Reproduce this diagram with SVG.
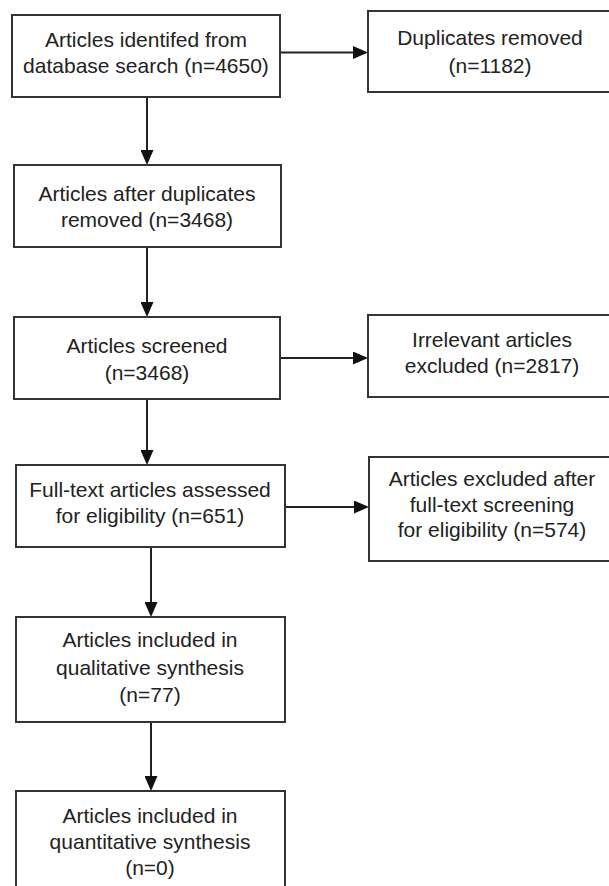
<svg xmlns="http://www.w3.org/2000/svg" width="609" height="886" viewBox="0 0 609 886">
<style>
.box{fill:#fff;stroke:#333;stroke-width:2}
.t{font-family:"Liberation Sans",Arial,sans-serif;font-size:21px;fill:#222;text-anchor:middle}
.c{stroke:#222;stroke-width:2;fill:none;marker-end:url(#ah)}
</style>
<defs>
<marker id="ah" viewBox="0 0 15 13" refX="7" refY="6.5" markerWidth="15" markerHeight="13" markerUnits="userSpaceOnUse" orient="auto">
<path d="M0,0 L15,6.5 L0,13 z" fill="#111"/>
</marker>
</defs>
<rect width="609" height="886" fill="#fff"/>
<g id="connectors">
<line class="c" x1="280" y1="52.5" x2="360" y2="52.5"/>
<line class="c" x1="147" y1="97" x2="147" y2="157"/>
<line class="c" x1="147" y1="247" x2="147" y2="309"/>
<line class="c" x1="147" y1="399" x2="147" y2="457"/>
<line class="c" x1="280" y1="358" x2="360" y2="358"/>
<line class="c" x1="285" y1="507" x2="361" y2="507"/>
<line class="c" x1="151" y1="547" x2="151" y2="609"/>
<line class="c" x1="151" y1="722" x2="151" y2="783"/>
</g>
<g id="n1"><rect class="box" x="12" y="15" width="268" height="82"/>
<text class="t" x="146" y="47">Articles identifed from</text>
<text class="t" x="146" y="73">database search (n=4650)</text></g>
<g id="n2"><rect class="box" x="368" y="11" width="244" height="81"/>
<text class="t" x="490" y="45">Duplicates removed</text>
<text class="t" x="490" y="73">(n=1182)</text></g>
<g id="n3"><rect class="box" x="14" y="165" width="267" height="82"/>
<text class="t" x="147" y="201">Articles after duplicates</text>
<text class="t" x="147" y="227">removed (n=3468)</text></g>
<g id="n4"><rect class="box" x="14" y="317" width="266" height="82"/>
<text class="t" x="147" y="353">Articles screened</text>
<text class="t" x="147" y="380">(n=3468)</text></g>
<g id="n5"><rect class="box" x="368" y="315" width="244" height="82"/>
<text class="t" x="492" y="347">Irrelevant articles</text>
<text class="t" x="492" y="373">excluded (n=2817)</text></g>
<g id="n6"><rect class="box" x="16" y="465" width="269" height="82"/>
<text class="t" x="150" y="497">Full-text articles assessed</text>
<text class="t" x="150" y="523">for eligibility (n=651)</text></g>
<g id="n7"><rect class="box" x="369" y="457" width="243" height="104"/>
<text class="t" x="492" y="486">Articles excluded after</text>
<text class="t" x="492" y="512">full-text screening</text>
<text class="t" x="492" y="537">for eligibility (n=574)</text></g>
<g id="n8"><rect class="box" x="16" y="617" width="269" height="105"/>
<text class="t" x="150" y="647">Articles included in</text>
<text class="t" x="150" y="675">qualitative synthesis</text>
<text class="t" x="150" y="702">(n=77)</text></g>
<g id="n9"><rect class="box" x="16" y="791" width="269" height="105"/>
<text class="t" x="150" y="823">Articles included in</text>
<text class="t" x="150" y="849">quantitative synthesis</text>
<text class="t" x="150" y="875">(n=0)</text></g>
</svg>
